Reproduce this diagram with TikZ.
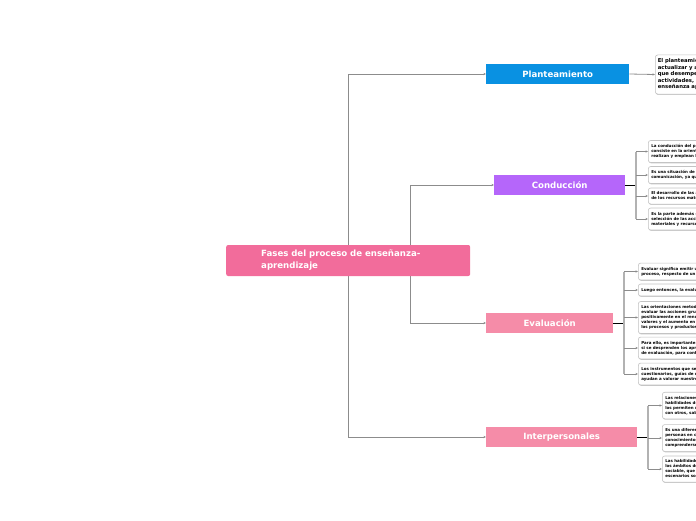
\documentclass[tikz,border=0pt]{standalone}
\usepackage{fontspec}
\setmainfont{DejaVu Sans}
\usetikzlibrary{arrows.meta,shadows}
\definecolor{rootpink}{RGB}{242,108,155}
\definecolor{planblue}{RGB}{9,145,226}
\definecolor{condpurple}{RGB}{181,102,250}
\definecolor{lightpink}{RGB}{245,140,168}
\definecolor{connGray}{RGB}{140,140,140}
\definecolor{barGray}{RGB}{178,178,178}
\definecolor{boxBorder}{RGB}{195,195,195}
\pgfdeclarelayer{bg}
\pgfsetlayers{bg,main}
\begin{document}
\begin{tikzpicture}[x=1pt,y=-1pt,
  rootnode/.style={rectangle, fill=rootpink, rounded corners=2pt, text=white,
    font=\bfseries\fontsize{8.6}{12}\selectfont, anchor=west,
    minimum width=244pt, minimum height=31pt, inner xsep=35pt, inner ysep=4pt,
    text width=174pt, align=left},
  topic/.style={rectangle, text=white, font=\bfseries\fontsize{8.6}{10}\selectfont,
    anchor=west, minimum height=20pt, inner sep=0pt},
  leaf/.style={draw=boxBorder, fill=white, rounded corners=2.5pt, line width=0.6pt,
    anchor=west, align=left, inner xsep=3pt, inner ysep=4pt,
    font=\bfseries\fontsize{4}{5}\selectfont, text width=130pt,
    drop shadow={shadow xshift=0.5pt, shadow yshift=-0.9pt, opacity=0.4, fill=black!55}},
  bigleaf/.style={leaf, inner xsep=2.5pt, font=\bfseries\fontsize{5.3}{6.5}\selectfont, text width=160pt},
  conn/.style={draw=connGray, line width=0.8pt, -{Stealth[length=2.5pt,width=2.2pt]}},
  bar/.style={draw=barGray, line width=1.4pt},
  link/.style={draw=black, line width=1pt}
]
\useasboundingbox (0,0) rectangle (696,520);
\clip (0,0) rectangle (696,520);

% main nodes
\node[rootnode] (root) at (226,260.5) {Fases del proceso de enseñanza-\\aprendizaje};
\node[topic, fill=planblue, minimum width=143pt] (plan) at (486,74) {Planteamiento};
\node[topic, fill=condpurple, minimum width=131pt] (cond) at (494,185) {Conducción};
\node[topic, fill=lightpink, minimum width=127pt] (eval) at (486,323) {Evaluación};
\node[topic, fill=lightpink, minimum width=151pt] (inter) at (486,437) {Interpersonales};

% leaves: Planteamiento
\node[bigleaf] (p1) at (655,74.5) {El planteamiento consiste en\\actualizar y adecuar los contenidos\\que desempeñará el docente en sus\\actividades, así como el proceso de\\enseñanza aprendizaje.};

% leaves: Conduccion
\node[leaf] (c1) at (648,151.5) {La conducción del proceso de enseñanza\\consiste en la orientación de las acciones\\realizan y emplean los alumnos.};
\node[leaf] (c2) at (648,175) {Es una situación de aprendizaje y de\\comunicación, ya que se intercambian ideas.};
\node[leaf] (c3) at (648,196) {El desarrollo de las actividades y el uso\\de los recursos  materiales.};
\node[leaf] (c4) at (648,219) {Es la parte además de la planificación,\\selección de las acciones, así como los\\materiales y recursos didácticos.};

% leaves: Evaluacion
\node[leaf] (e1) at (638,271.5) {Evaluar significa emitir un juicio sobre el\\proceso, respecto de un objetivo.};
\node[leaf] (e2) at (638,290) {Luego entonces, la evaluación es continua.};
\node[leaf] (e3) at (638,317.5) {Las orientaciones metodológicas para\\evaluar las acciones grupales influyen\\positivamente en el rendimiento, los\\valores y el aumento en la calidad de\\los procesos y productos.};
\node[leaf] (e4) at (638,348) {Para ello, es importante verificar\\si se desprenden los aprendizajes\\de evaluación, para confirmar logros.};
\node[leaf] (e5) at (638,374) {Los instrumentos que se utilizan:\\cuestionarios, guías de observación\\ayudan a valorar nuestro trabajo.};

% leaves: Interpersonales
\node[leaf] (i1) at (662,405.5) {Las relaciones interpersonales son\\habilidades de comunicación que\\los permiten relacionarse\\con otros, saber escuchar.};
\node[leaf] (i2) at (662,438) {Es una diferencia entre\\personas en cuanto a\\conocimientos y formas de\\comprenderse.};
\node[leaf] (i3) at (662,469) {Las habilidades sociales en\\los ámbitos de la vida\\sociable, que se presentan en\\escenarios solidarios.};

% bar coordinates
\coordinate (lx) at (348,0);
\coordinate (mx) at (410,0);
\coordinate (cx) at (636,0);
\coordinate (ex) at (624,0);
\coordinate (ix) at (648,0);

\begin{pgfonlayer}{bg}
  % root connectors
  \draw[conn] (root.center -| lx) |- (plan.west);
  \draw[conn] (root.center -| lx) |- (inter.west);
  \draw[conn] (root.center -| mx) |- (cond.west);
  \draw[conn] (root.center -| mx) |- (eval.west);
\end{pgfonlayer}

% Planteamiento leaf
\draw[conn] (plan.east) -- (p1.west);

% Conduccion
\draw[link] (cond.east) -- (cond.east -| cx);
\draw[bar] (c1.west -| cx) -- (c4.west -| cx);
\foreach \n in {c1,c2,c3,c4} \draw[conn] (\n.west -| cx) -- (\n.west);

% Evaluacion
\draw[link] (eval.east) -- (eval.east -| ex);
\draw[bar] (e1.west -| ex) -- (e5.west -| ex);
\foreach \n in {e1,e2,e3,e4,e5} \draw[conn] (\n.west -| ex) -- (\n.west);

% Interpersonales
\draw[link] (inter.east) -- (inter.east -| ix);
\draw[bar] (i1.west -| ix) -- (i3.west -| ix);
\foreach \n in {i1,i2,i3} \draw[conn] (\n.west -| ix) -- (\n.west);
\end{tikzpicture}
\end{document}
